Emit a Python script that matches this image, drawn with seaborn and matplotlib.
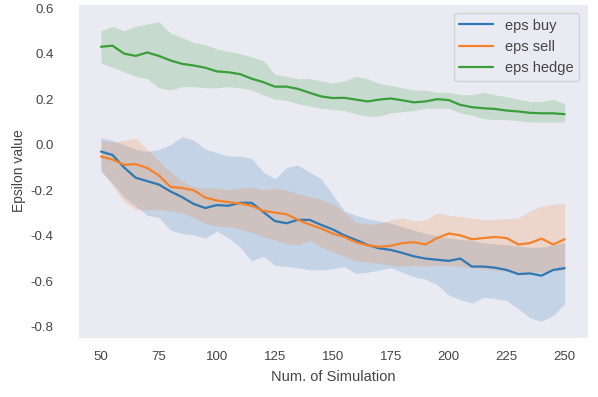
import numpy as np
import matplotlib
matplotlib.use("Agg")
import matplotlib.pyplot as plt
import seaborn as sns

# number of simulations (every 5th point)
sims = list(range(50, 251, 5))

buy_mean = [-0.03, -0.045, -0.10, -0.145, -0.16, -0.175, -0.205, -0.23, -0.26, -0.278,
            -0.265, -0.268, -0.255, -0.255, -0.295, -0.335, -0.345, -0.33, -0.33, -0.352,
            -0.372, -0.398, -0.418, -0.44, -0.455, -0.462, -0.475, -0.49, -0.50, -0.505,
            -0.51, -0.50, -0.535, -0.535, -0.54, -0.55, -0.568, -0.565, -0.575, -0.55, -0.542]
buy_hi = [0.03, 0.02, 0.0, -0.02, -0.03, -0.02, 0.0, 0.035, 0.02, -0.02,
          -0.035, -0.05, -0.05, -0.06, -0.12, -0.15, -0.10, -0.09, -0.12, -0.15,
          -0.22, -0.29, -0.31, -0.325, -0.335, -0.345, -0.36, -0.375, -0.39, -0.40,
          -0.41, -0.415, -0.42, -0.43, -0.435, -0.44, -0.445, -0.45, -0.45, -0.44, -0.43]
buy_lo = [-0.118, -0.17, -0.23, -0.27, -0.31, -0.32, -0.375, -0.39, -0.395, -0.41,
          -0.38, -0.41, -0.45, -0.51, -0.49, -0.53, -0.535, -0.54, -0.549, -0.55,
          -0.545, -0.535, -0.565, -0.56, -0.55, -0.54, -0.56, -0.58, -0.59, -0.615,
          -0.66, -0.68, -0.695, -0.67, -0.675, -0.685, -0.72, -0.76, -0.775, -0.75, -0.70]

sell_mean = [-0.052, -0.065, -0.088, -0.085, -0.102, -0.135, -0.185, -0.19, -0.20, -0.232,
             -0.245, -0.252, -0.258, -0.268, -0.29, -0.298, -0.305, -0.33, -0.35, -0.368,
             -0.39, -0.405, -0.428, -0.442, -0.448, -0.444, -0.432, -0.428, -0.438, -0.41,
             -0.39, -0.398, -0.415, -0.41, -0.405, -0.41, -0.438, -0.432, -0.412, -0.438, -0.415]
sell_hi = [0.02, 0.01, 0.02, 0.028, -0.02, -0.07, -0.12, -0.16, -0.185, -0.19,
           -0.19, -0.198, -0.19, -0.186, -0.198, -0.19, -0.20, -0.215, -0.228, -0.24,
           -0.26, -0.295, -0.34, -0.35, -0.345, -0.33, -0.322, -0.335, -0.33, -0.30,
           -0.31, -0.315, -0.322, -0.33, -0.328, -0.325, -0.322, -0.29, -0.27, -0.262, -0.257]
sell_lo = [-0.11, -0.18, -0.25, -0.285, -0.286, -0.286, -0.29, -0.30, -0.32, -0.345,
           -0.358, -0.36, -0.37, -0.385, -0.405, -0.418, -0.435, -0.44, -0.42, -0.45,
           -0.47, -0.49, -0.51, -0.515, -0.52, -0.53, -0.535, -0.528, -0.535, -0.53,
           -0.53, -0.535, -0.54, -0.545, -0.55, -0.555, -0.56, -0.56, -0.56, -0.555, -0.55]

hedge_mean = [0.43, 0.435, 0.40, 0.39, 0.405, 0.39, 0.37, 0.355, 0.348, 0.338,
              0.322, 0.318, 0.31, 0.29, 0.275, 0.255, 0.255, 0.245, 0.228, 0.212,
              0.205, 0.206, 0.198, 0.19, 0.198, 0.203, 0.195, 0.186, 0.19, 0.20,
              0.196, 0.175, 0.165, 0.16, 0.157, 0.15, 0.146, 0.14, 0.138, 0.138, 0.134]
hedge_hi = [0.50, 0.52, 0.50, 0.52, 0.53, 0.54, 0.49, 0.47, 0.45, 0.44,
            0.42, 0.41, 0.40, 0.385, 0.37, 0.31, 0.30, 0.29, 0.29, 0.28,
            0.27, 0.28, 0.30, 0.29, 0.27, 0.26, 0.25, 0.24, 0.24, 0.23,
            0.23, 0.22, 0.22, 0.23, 0.22, 0.21, 0.20, 0.19, 0.19, 0.20, 0.18]
hedge_lo = [0.36, 0.34, 0.32, 0.30, 0.29, 0.25, 0.24, 0.255, 0.255, 0.25,
            0.25, 0.255, 0.25, 0.24, 0.22, 0.20, 0.195, 0.18, 0.17, 0.16,
            0.155, 0.15, 0.135, 0.125, 0.125, 0.14, 0.145, 0.15, 0.16, 0.16,
            0.16, 0.14, 0.13, 0.115, 0.11, 0.11, 0.105, 0.10, 0.10, 0.10, 0.10]

series = [
    ("eps buy", buy_mean, buy_lo, buy_hi),
    ("eps sell", sell_mean, sell_lo, sell_hi),
    ("eps hedge", hedge_mean, hedge_lo, hedge_hi),
]

sns.set_style("dark")
plt.rcParams['font.family'] = ['Liberation Sans', 'DejaVu Sans']
plt.rcParams['axes.unicode_minus'] = False

fig = plt.figure(figsize=(5.98, 3.97), dpi=100)
ax = fig.add_axes([0.130, 0.149, 0.853, 0.841])

colors = ["#2f78b4", "#f5822a", "#3a9e3a"]
for (name, m, lo, hi), c in zip(series, colors):
    sns.lineplot(x=sims, y=m, ax=ax, color=c, label=name, linewidth=1.6)
    ax.fill_between(sims, lo, hi, color=c, alpha=0.2, linewidth=0)

ax.set_xlim(40, 260)
ax.set_ylim(-0.848, 0.618)
ax.set_xticks(range(50, 251, 25))
ax.set_yticks(np.round(np.arange(-0.8, 0.61, 0.2), 1))
ax.tick_params(axis="x", labelsize=9.5, colors="#444444", pad=6)
ax.tick_params(axis="y", labelsize=9.5, colors="#444444", pad=14)
ax.set_xlabel("Num. of Simulation", fontsize=10.5, color="#444444", labelpad=5)
ax.set_ylabel("Epsilon value", fontsize=10, color="#444444", labelpad=3)
ax.legend(loc="upper right", fontsize=10.5, labelcolor="#444444",
          handlelength=2.3, borderaxespad=0.6)

fig.savefig("out.png", dpi=100)
